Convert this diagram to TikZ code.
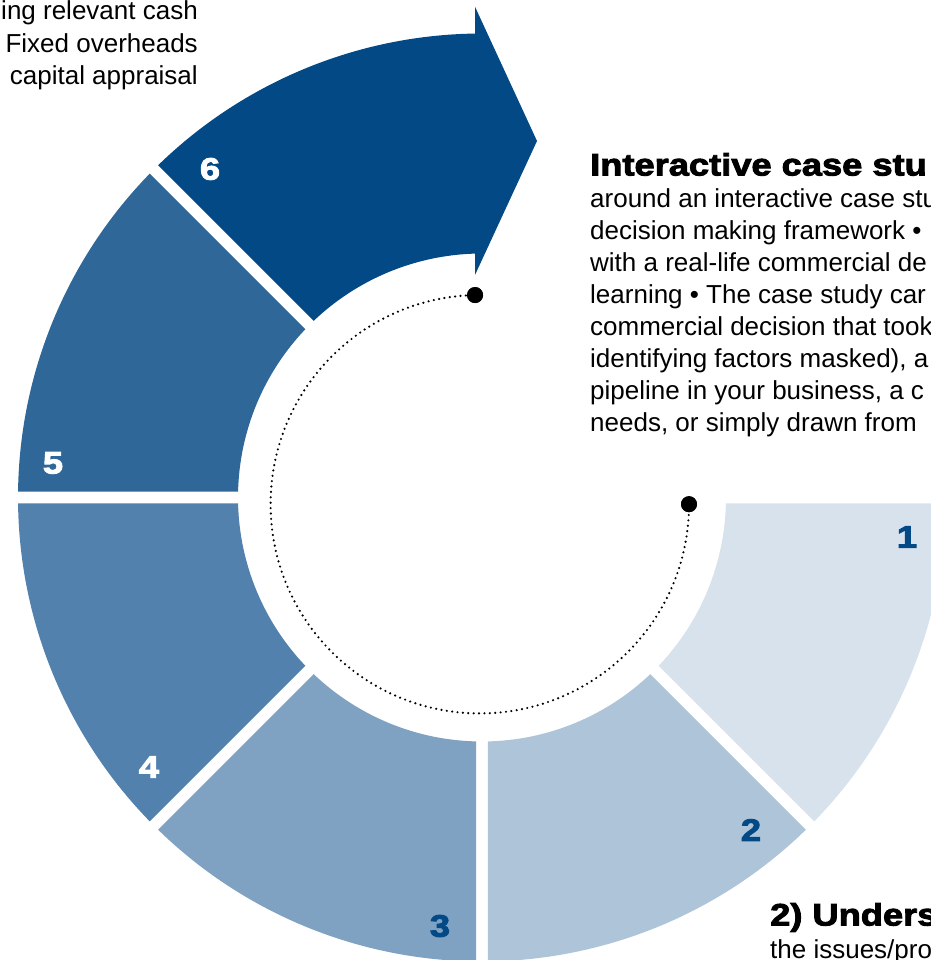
\documentclass[tikz,border=0pt]{standalone}
\usepackage{fontspec}
\setmainfont{Liberation Sans}
\newfontfamily\heavyfont{Liberation Sans}[UprightFont={* Bold}, FakeBold=3, FakeStretch=1.17]

\definecolor{ringA}{RGB}{215,226,236}
\definecolor{ringB}{RGB}{174,196,217}
\definecolor{ringC}{RGB}{127,161,194}
\definecolor{ringD}{RGB}{82,129,173}
\definecolor{ringE}{RGB}{47,104,152}
\definecolor{ringF}{RGB}{3,73,134}
\definecolor{navy}{RGB}{3,73,134}

\tikzset{
  num/.style={font=\heavyfont\fontsize{31}{31}\selectfont, inner sep=0pt, anchor=center},
  numlight/.style={num, text=navy},
  numdark/.style={num, text=white},
  body/.style={font=\fontsize{26}{26}\selectfont, inner sep=0pt},
  head/.style={font=\heavyfont\fontsize{31}{31}\selectfont, inner sep=0pt},
  dotend/.style={circle, fill=black, inner sep=0pt, minimum size=16pt},
  track/.style={line width=2.4pt, dash pattern=on 0pt off 5.4pt, line cap=round},
}

\begin{document}
\begin{tikzpicture}[x=1pt,y=1pt]
\useasboundingbox (-482,-462.5) rectangle (448,497.5);

% ring sectors, 45 degrees each, separated by straight white gaps
\foreach \a/\b/\c in {0/-45/ringA, -45/-90/ringB, -90/-135/ringC, -135/-180/ringD, 180/135/ringE}{
  \fill[\c] ({\a-0.741}:464pt) arc[start angle={\a-0.741}, end angle={\b+0.741}, radius=464pt]
    -- ({\b+1.409}:244pt) arc[start angle={\b+1.409}, end angle={\a-1.409}, radius=244pt] -- cycle;
}
% last sector ends in an arrow head
\fill[ringF] (134.259:464pt) arc[start angle=134.259, end angle=90.864, radius=464pt]
  -- (-7,490.8) -- (55,356.5) -- (-7,222.5)
  -- (91.644:244pt) arc[start angle=91.644, end angle=133.591, radius=244pt] -- cycle;

% step numbers
\node[numlight] (n1) at (425,-39.5) {1};
\node[numlight] (n2) at (269,-332.5) {2};
\node[numlight] (n3) at (-42,-428.5) {3};
\node[numdark]  (n4) at (-333,-269.5) {4};
\node[numdark]  (n5) at (-429,34.5) {5};
\node[numdark]  (n6) at (-272,328.5) {6};

% dotted track inside the ring
\node[dotend] (dotA) at (207,-6.7) {};
\node[dotend] (dotB) at (-6.95,202.45) {};
\draw[track] (dotA.center) arc[start angle=0, end angle=-268.7, radius=209.2pt];
\node[dotend] at (dotA) {};
\node[dotend] at (dotB) {};

% text blocks
\node[body, anchor=base east] (tl1) at (-284,477.5) {ing relevant cash};
\node[body, anchor=base east] (tl2) at (-284,444.5) {Fixed overheads};
\node[body, anchor=base east] (tl3) at (-284,412.5) {capital appraisal};

\node[head, anchor=base west] (h6) at (108,322) {Interactive case stu};
\foreach \t [count=\i from 0] in {around an interactive case stu, decision making framework \textbullet, with a real-life commercial de, learning \textbullet{} The case study car, commercial decision that took, {identifying factors masked), a}, {pipeline in your business, a c}, {needs, or simply drawn from}}{
  \node[body, anchor=base west] (b\i) at (108,{289.5-32*\i}) {\t};
}

\node[head, anchor=base west] (h2) at (288,-428) {2) Unders};
\node[body, anchor=base west] (b2a) at (288,-461) {the issues/pro};
\end{tikzpicture}
\end{document}
